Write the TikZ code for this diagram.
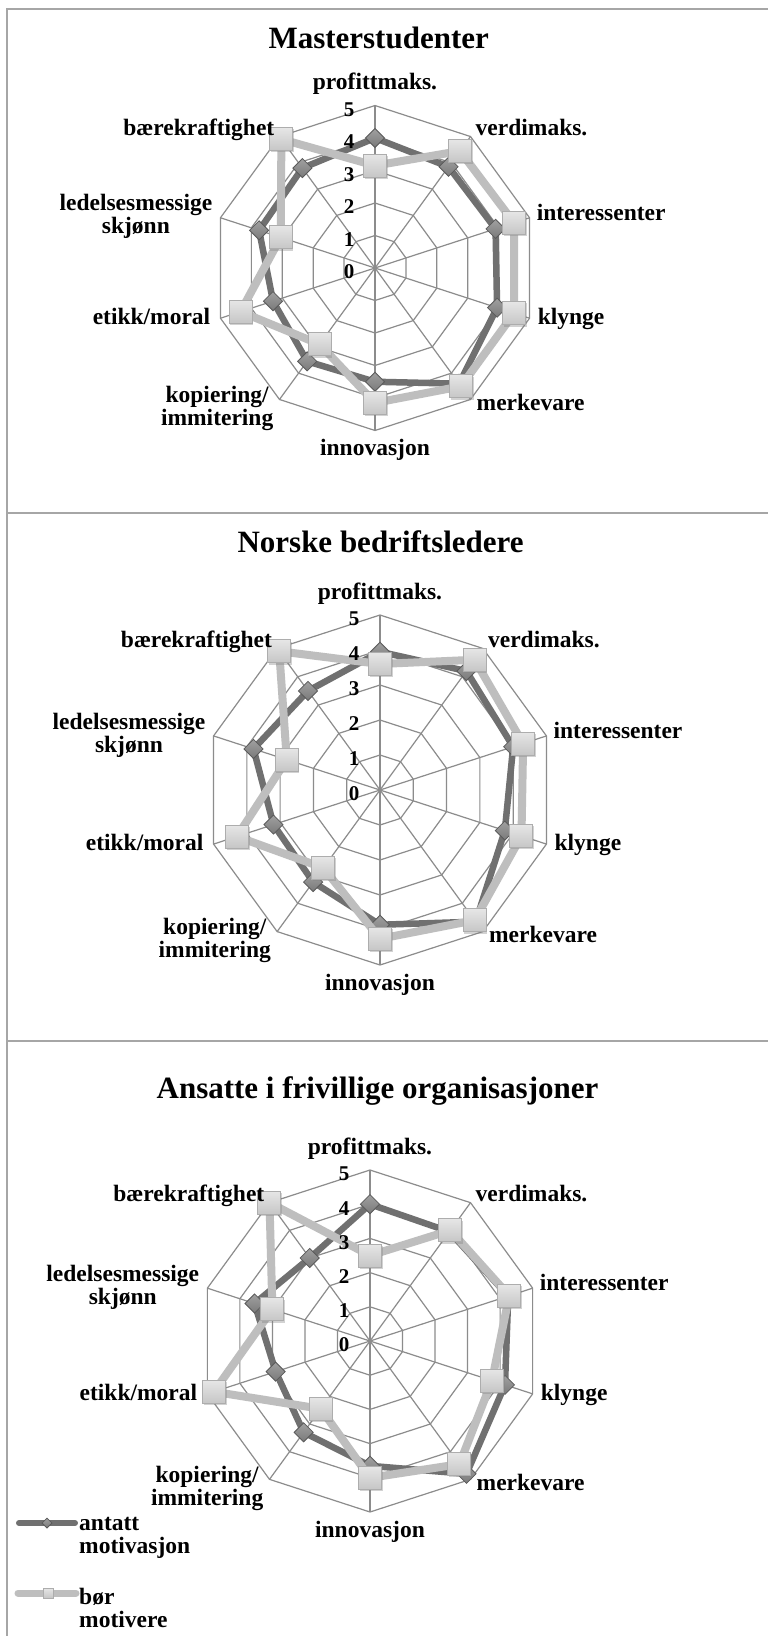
\documentclass[tikz,border=0pt]{standalone}
\usepackage{fontspec}
\setmainfont{Liberation Serif}
\usetikzlibrary{shadows}

\definecolor{framegray}{HTML}{A6A6A6}
\definecolor{gridgray}{HTML}{8C8C8C}
\definecolor{darkline}{HTML}{707070}
\definecolor{lightline}{HTML}{BEBEBE}
\definecolor{diamtop}{HTML}{A0A0A0}
\definecolor{diambot}{HTML}{7A7A7A}
\definecolor{diamedge}{HTML}{5A5A5A}
\definecolor{sqtop}{HTML}{E6E6E6}
\definecolor{sqbot}{HTML}{C6C6C6}
\definecolor{sqedge}{HTML}{ADADAD}

\tikzset{
  frameline/.style={draw=framegray, line width=2pt},
  gridline/.style={draw=gridgray, line width=1.2pt},
  antattline/.style={draw=darkline, line width=6.5pt, line join=round},
  borline/.style={draw=lightline, line width=8pt, line join=round},
  antattmark/.style={rectangle, rotate=45, minimum size=13.5pt, inner sep=0pt,
    draw=diamedge, line width=0.8pt, top color=diamtop, bottom color=diambot},
  bormark/.style={rectangle, minimum size=23pt, inner sep=0pt, draw=sqedge,
    line width=1pt, top color=sqtop, bottom color=sqbot,
    drop shadow={shadow xshift=1.2pt, shadow yshift=-1.8pt, opacity=0.35}},
  catlabel/.style={font=\bfseries\fontsize{23.5}{23}\selectfont, inner sep=0pt, align=center},
  scalelabel/.style={font=\bfseries\fontsize{21}{21}\selectfont, inner sep=0pt},
  charttitle/.style={font=\bfseries\fontsize{31}{31}\selectfont, inner sep=0pt},
}

% #1 name, #2 centre x, #3 centre y, #4 radius of level 5,
% #5 values "antatt motivasjon", #6 values "bør motivere"
\newcommand\radarchart[6]{%
  \def\rn{#1}\def\rx{#2}\def\ry{#3}\def\rr{#4}%
  \coordinate (\rn o) at (\rx,\ry);
  \foreach \k in {0,...,9}
    \coordinate (\rn v\k) at ({\rx+\rr*cos(90-36*\k)},{\ry-\rr*sin(90-36*\k)});
  % rings and spokes
  \foreach \lev in {1,...,5}
    \draw[gridline] ({\rx},{\ry-\lev*\rr/5})
      \foreach \k in {1,...,9}{ -- ({\rx+\lev*\rr/5*cos(90-36*\k)},{\ry-\lev*\rr/5*sin(90-36*\k)}) } -- cycle;
  \foreach \k in {0,...,9}
    \draw[gridline] (\rn o) -- (\rn v\k);
  % data points
  \foreach \val [count=\k from 0] in {#5}
    \coordinate (\rn a\k) at ({\rx+\val*\rr/5*cos(90-36*\k)},{\ry-\val*\rr/5*sin(90-36*\k)});
  \foreach \val [count=\k from 0] in {#6}
    \coordinate (\rn b\k) at ({\rx+\val*\rr/5*cos(90-36*\k)},{\ry-\val*\rr/5*sin(90-36*\k)});
  % series
  \draw[antattline] (\rn a0) \foreach \k in {1,...,9}{ -- (\rn a\k)} -- cycle;
  \foreach \k in {0,...,9} \node[antattmark] (\rn am\k) at (\rn a\k) {};
  \draw[borline] (\rn b0) \foreach \k in {1,...,9}{ -- (\rn b\k)} -- cycle;
  \foreach \k in {0,...,9} \node[bormark] (\rn bm\k) at (\rn b\k) {};
  % scale
  \foreach \lev in {0,...,5}
    \node[scalelabel] (\rn s\lev) at ({\rx-26},{\ry-\lev*\rr/5+4}) {\lev};
  % category labels
  \node[catlabel, anchor=mid]      (\rn l0) at ([shift={(0,-18)}]\rn v0) {profittmaks.};
  \node[catlabel, anchor=mid west] (\rn l1) at ([shift={(5,-3)}]\rn v1) {verdimaks.};
  \node[catlabel, anchor=mid west] (\rn l2) at ([shift={(7,0)}]\rn v2) {interessenter};
  \node[catlabel, anchor=mid west] (\rn l3) at ([shift={(8,4)}]\rn v3) {klynge};
  \node[catlabel, anchor=mid west] (\rn l4) at ([shift={(6,9)}]\rn v4) {merkevare};
  \node[catlabel, anchor=mid]      (\rn l5) at ([shift={(0,23)}]\rn v5) {innovasjon};
  \node[catlabel, anchor=east]     (\rn l6) at ([shift={(-6,9)}]\rn v6) {kopiering/\\immitering};
  \node[catlabel, anchor=mid east] (\rn l7) at ([shift={(-10,4)}]\rn v7) {etikk/moral};
  \node[catlabel, anchor=east]     (\rn l8) at ([shift={(-8,-1)}]\rn v8) {ledelsesmessige\\skjønn};
  \node[catlabel, anchor=mid east] (\rn l9) at ([shift={(-5,-3)}]\rn v9) {bærekraftighet};
}

\begin{document}
\begin{tikzpicture}[x=1pt, y=-1pt]
  \useasboundingbox (0,0) rectangle (768,1636);
  \fill[white] (0,0) rectangle (768,1636);

  % panel frame
  \draw[frameline] (7,1636) -- (7,9.3) -- (770,9.3);
  \draw[frameline] (7,513.3) -- (770,513.3);
  \draw[frameline] (7,1041) -- (770,1041);

  % titles
  \node[charttitle, anchor=base] (t1) at (378.7,48) {Masterstudenter};
  \node[charttitle, anchor=base] (t2) at (380.6,552) {Norske bedriftsledere};
  \node[charttitle, anchor=base] (t3) at (377.5,1098) {Ansatte i frivillige organisasjoner};

  \radarchart{c1}{375}{268}{162.5}
    {4.0,3.85,3.9,3.95,4.4,3.5,3.55,3.3,3.75,3.8}
    {3.15,4.45,4.5,4.5,4.5,4.15,2.9,4.35,3.05,4.9}
  \radarchart{c2}{380}{790}{175}
    {3.95,4.2,4.0,3.75,4.65,3.85,3.25,3.2,3.8,3.5}
    {3.6,4.6,4.3,4.25,4.6,4.25,2.75,4.3,2.8,4.9}
  \radarchart{c3}{370}{1341}{171}
    {4.0,3.95,4.25,4.15,4.8,3.65,3.3,2.9,3.55,3.0}
    {2.5,4.0,4.28,3.75,4.45,4.0,2.45,4.8,3.0,5.0}

  % legend
  \coordinate (la1) at (19,1523);
  \coordinate (la2) at (75,1523);
  \draw[antattline, line width=6pt, line cap=round] (la1) -- (la2);
  \node[antattmark, minimum size=7pt] (lam) at (47,1523) {};
  \node[catlabel, align=left, anchor=west] (lta) at (79,1538) {antatt\\motivasjon};
  \coordinate (lb1) at (18,1593);
  \coordinate (lb2) at (76,1593);
  \draw[borline, line width=7pt, line cap=round] (lb1) -- (lb2);
  \node[rectangle, minimum size=10pt, inner sep=0pt, draw=sqedge, line width=0.8pt,
        top color=sqtop, bottom color=sqbot] (lbm) at (48,1593) {};
  \node[catlabel, align=left, anchor=west] (ltb) at (79,1608) {bør\\motivere};
\end{tikzpicture}
\end{document}
